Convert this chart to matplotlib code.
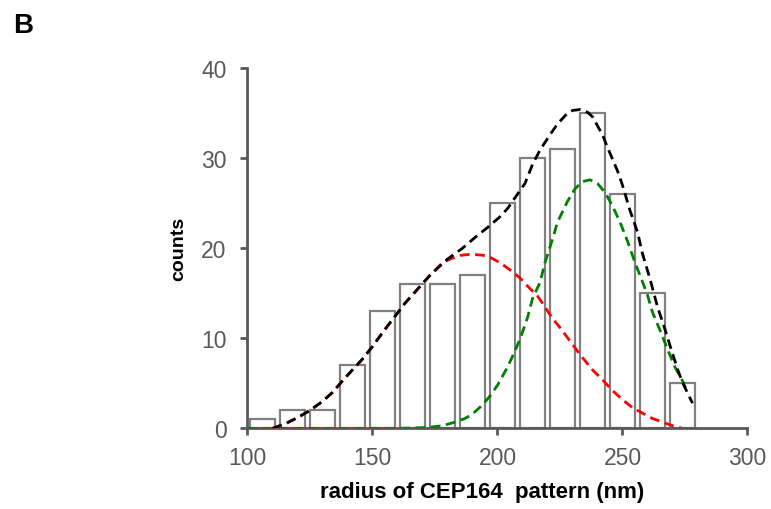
import matplotlib
matplotlib.use("Agg")
import matplotlib.pyplot as plt

plt.rcParams['font.family'] = ['Liberation Sans', 'DejaVu Sans']

# histogram bins (nm) and counts
bin_centers = [106, 118, 130, 142, 154, 166, 178, 190, 202, 214, 226, 238, 250, 262, 274]
counts = [1, 2, 2, 7, 13, 16, 16, 17, 25, 30, 31, 35, 26, 15, 5]

# fitted curves
total_x = [110, 115, 120, 125, 130, 134, 139, 146, 150, 155, 163, 173, 180, 186, 191,
           196, 201, 204, 207, 211, 214, 217, 221, 224, 228, 230, 233, 236, 238, 242,
           244, 248, 250, 253, 256, 258, 261, 264, 267, 269, 272, 274, 278]
total_y = [0, 0.5, 1.2, 2.0, 3.0, 4.0, 5.6, 7.7, 9.1, 11.0, 13.9, 17.0, 18.8, 20.0, 21.2,
           22.3, 23.5, 24.4, 25.6, 27.2, 29.3, 30.9, 32.6, 33.8, 35.0, 35.3, 35.4, 35.1, 34.6, 32.6,
           31.2, 28.6, 27.0, 24.2, 21.8, 19.4, 16.6, 13.5, 11.0, 9.2, 6.6, 5.1, 2.8]

red_x = [110, 115, 120, 125, 130, 134, 139, 146, 150, 155, 163, 173, 178, 181, 185, 188,
         191, 195, 197, 201, 205, 209, 212, 216, 218, 222, 225, 229, 233, 238, 242, 246,
         250, 254, 258, 262, 266, 270, 274]
red_y = [0, 0.5, 1.2, 2.0, 3.0, 4.0, 5.6, 7.7, 9.1, 11.0, 13.9, 17.0, 18.4, 18.8, 19.2, 19.3,
         19.3, 19.2, 19.0, 18.4, 17.6, 16.7, 15.8, 14.7, 13.9, 12.2, 11.2, 9.7, 8.2, 6.5, 5.4, 4.2,
         3.2, 2.3, 1.7, 1.1, 0.7, 0.3, 0]

green_x = [100, 120, 140, 160, 172, 178, 183, 187, 190, 194, 197, 200, 204, 207, 209, 212,
           214, 217, 219, 222, 224, 228, 231, 234, 237, 240, 243, 246, 249, 252, 255, 257,
           260, 262, 265, 268, 271, 274, 276]
green_y = [0, 0, 0, 0, 0.1, 0.3, 0.7, 1.1, 1.6, 2.6, 3.6, 4.8, 6.8, 8.6, 9.9, 12.3,
           14.4, 16.2, 18.4, 21.0, 22.9, 25.2, 26.6, 27.4, 27.6, 27.2, 26.2, 24.7, 22.9, 20.8, 18.4, 17.0,
           14.8, 12.9, 10.9, 8.8, 6.8, 5.3, 4.0]

fig = plt.figure(figsize=(7.71, 5.10), dpi=100)
ax = fig.add_axes([0.321, 0.158, 0.6485, 0.7065])

gray = '#595959'
ax.bar(bin_centers, counts, width=10.3, facecolor='white', edgecolor='#808080',
       linewidth=1.6, zorder=1)

ls = (0, (3.5, 2))
ax.plot(red_x, red_y, color='red', lw=2, linestyle=ls, zorder=2)
ax.plot(green_x, green_y, color='green', lw=2, linestyle=ls, zorder=3)
ax.plot(total_x, total_y, color='black', lw=2, linestyle=ls, zorder=4)

ax.set_xlim(100, 300)
ax.set_ylim(0, 40)
ax.set_xticks([100, 150, 200, 250, 300])
ax.set_yticks([0, 10, 20, 30, 40])

for side in ['top', 'right']:
    ax.spines[side].set_visible(False)
for side in ['left', 'bottom']:
    ax.spines[side].set_color(gray)
    ax.spines[side].set_linewidth(2)
ax.tick_params(colors=gray, labelsize=16.5, width=2, length=5, direction='out')
ax.tick_params(axis='x', pad=8)
ax.tick_params(axis='y', pad=10)

ax.set_xlabel('radius of CEP164  pattern (nm)', fontsize=16, fontweight='bold', labelpad=8)
ax.xaxis.label.set_x(0.469)
ax.set_ylabel('counts', fontsize=14, fontweight='bold', labelpad=10)
ax.set_clip_on(False)

fig.text(0.017, 0.935, 'B', fontsize=20, fontweight='bold')

fig.savefig('out.png', dpi=100)
